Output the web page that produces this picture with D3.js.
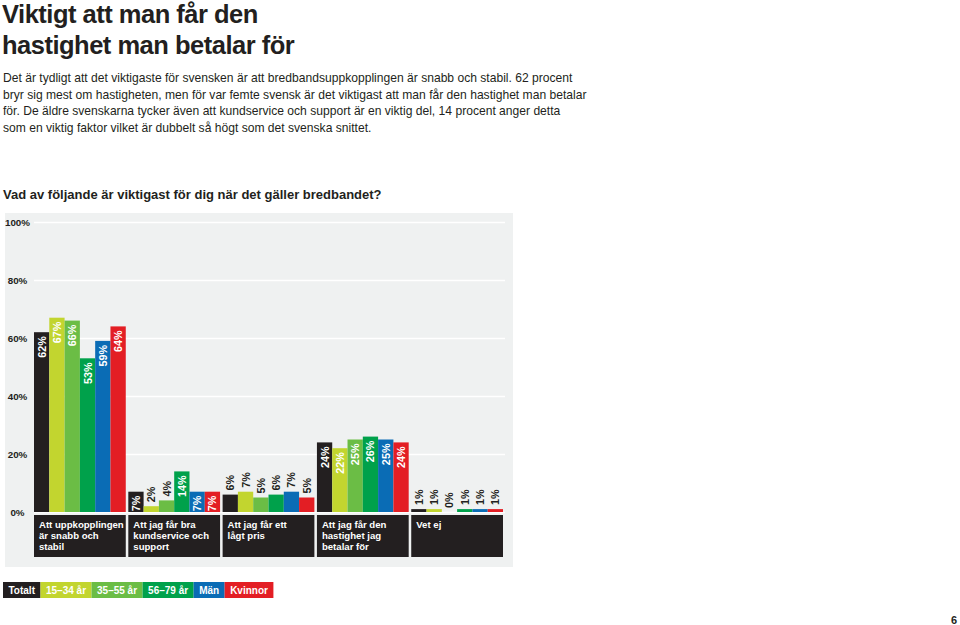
<!DOCTYPE html>
<html>
<head>
<meta charset="utf-8">
<script src="https://cdn.jsdelivr.net/npm/d3@7"></script>
<style>
  html, body { margin: 0; padding: 0; background: #fff; }
  svg { display: block; font-family: "Liberation Sans", Arial, Helvetica, sans-serif; }
</style>
</head>
<body>
<svg id="chart" width="960" height="625"></svg>
<script>
// ---------- DATA ----------
const titleLines = ["Viktigt att man får den", "hastighet man betalar för"];
const bodyLines = [
  "Det är tydligt att det viktigaste för svensken är att bredbandsuppkopplingen är snabb och stabil. 62 procent",
  "bryr sig mest om hastigheten, men för var femte svensk är det viktigast att man får den hastighet man betalar",
  "för. De äldre svenskarna tycker även att kundservice och support är en viktig del, 14 procent anger detta",
  "som en viktig faktor vilket är dubbelt så högt som det svenska snittet."
];
const question = "Vad av följande är viktigast för dig när det gäller bredbandet?";
const categories = [
  ["Att uppkopplingen", "är snabb och", "stabil"],
  ["Att jag får bra", "kundservice och", "support"],
  ["Att jag får ett", "lågt pris"],
  ["Att jag får den", "hastighet jag", "betalar för"],
  ["Vet ej"]
];
const series = ["Totalt", "15–34 år", "35–55 år", "56–79 år", "Män", "Kvinnor"];
const totalt   = [62, 7, 6, 24, 1];
const age1534  = [67, 2, 7, 22, 1];
const age3555  = [66, 4, 5, 25, 0];
const age5679  = [53, 14, 6, 26, 1];
const man      = [59, 7, 7, 25, 1];
const kvinnor  = [64, 7, 5, 24, 1];
const yTicks = [0, 20, 40, 60, 80, 100];
const pageNumber = "6";

// ---------- STYLE ----------
const colors = ["#231f20", "#c2d52f", "#6bbd45", "#00a14b", "#0a6cb5", "#e31e24"];
// which value labels sit inside the bar (per category, per series)
const labelInside = [
  [1,1,1,1,1,1],
  [1,0,0,1,1,1],
  [0,0,0,0,0,0],
  [1,1,1,1,1,1],
  [0,0,0,0,0,0]
];

const valuesBySeries = [totalt, age1534, age3555, age5679, man, kvinnor];
const svg = d3.select("#chart");

// Title
svg.append("g").selectAll("text").data(titleLines).join("text")
  .attr("x", 2).attr("y", (d, i) => 23 + i * 31)
  .attr("font-size", 25.5).attr("font-weight", "bold").attr("letter-spacing", -0.5)
  .attr("fill", "#231f20")
  .text(d => d);

// Body
svg.append("g").selectAll("text").data(bodyLines).join("text")
  .attr("x", 3).attr("y", (d, i) => 82 + i * 16.7)
  .attr("font-size", 12.1).attr("fill", "#231f20")
  .text(d => d);

// Question
svg.append("text").attr("x", 3).attr("y", 199)
  .attr("font-size", 13).attr("font-weight", "bold").attr("fill", "#231f20")
  .text(question);

// Panel
svg.append("rect").attr("x", 5).attr("y", 213).attr("width", 508).attr("height", 354)
  .attr("fill", "#eff1f1");

const y = d3.scaleLinear().domain([0, 100]).range([512, 222]);
const x0 = d3.scaleBand().domain(d3.range(categories.length)).range([34, 503]).paddingInner(0.027).paddingOuter(0);
const x1 = d3.scaleBand().domain(d3.range(series.length)).range([0, x0.bandwidth()]).padding(0);

// Gridlines
svg.append("g").selectAll("line").data(yTicks).join("line")
  .attr("x1", 34).attr("x2", 505)
  .attr("y1", d => y(d) + 0.5).attr("y2", d => y(d) + 0.5)
  .attr("stroke", "#ffffff").attr("stroke-width", 1.5);

// Y axis labels
svg.append("g").selectAll("text").data(yTicks).join("text")
  .attr("x", 17.5).attr("y", d => y(d) + 4)
  .attr("text-anchor", "middle")
  .attr("font-size", 9.8).attr("font-weight", "bold").attr("fill", "#231f20")
  .text(d => d + "%");

// Bars
const groups = svg.append("g").selectAll("g").data(categories).join("g")
  .attr("transform", (d, i) => `translate(${x0(i)},0)`);

groups.each(function (cat, ci) {
  const g = d3.select(this);
  const vals = series.map((s, si) => ({ si, v: valuesBySeries[si][ci], inside: labelInside[ci][si] }));
  g.selectAll("rect").data(vals).join("rect")
    .attr("x", d => x1(d.si)).attr("width", x1.bandwidth())
    .attr("y", d => y(d.v)).attr("height", d => y(0) - y(d.v))
    .attr("fill", d => colors[d.si]);
  g.selectAll("text.val").data(vals).join("text").attr("class", "val")
    .attr("transform", d => {
      const cx = x1(d.si) + x1.bandwidth() / 2 + 4;
      const ty = d.inside ? y(d.v) + 4 : y(d.v) - 4;
      return `translate(${cx},${ty}) rotate(-90)`;
    })
    .attr("text-anchor", d => d.inside ? "end" : "start")
    .attr("font-size", 10.8).attr("font-weight", "bold")
    .attr("fill", d => d.inside ? "#ffffff" : "#231f20")
    .text(d => d.v + "%");

  // Category label box
  g.append("rect").attr("x", 0).attr("y", 515).attr("width", x0.bandwidth()).attr("height", 42)
    .attr("fill", "#231f20");
  g.selectAll("text.cat").data(cat).join("text").attr("class", "cat")
    .attr("x", 5).attr("y", (d, i) => 528 + i * 11)
    .attr("font-size", 9.6).attr("font-weight", "bold").attr("fill", "#ffffff")
    .text(d => d);
});

// Legend
const legend = svg.append("g").attr("transform", "translate(3,582)");
let lx = 0;
series.forEach((s, i) => {
  const t = legend.append("text").attr("y", 12)
    .attr("font-size", 10).attr("font-weight", "bold").attr("fill", "#ffffff").text(s);
  const w = t.node().getComputedTextLength() + 11;
  legend.insert("rect", "text").attr("x", lx).attr("y", 0).attr("width", w).attr("height", 16)
    .attr("fill", colors[i]);
  t.attr("x", lx + w / 2).attr("text-anchor", "middle");
  lx += w;
});

// Page number
svg.append("text").attr("x", 957).attr("y", 624).attr("text-anchor", "end")
  .attr("font-size", 11).attr("font-weight", "bold").attr("fill", "#231f20").text(pageNumber);
</script>
</body>
</html>
